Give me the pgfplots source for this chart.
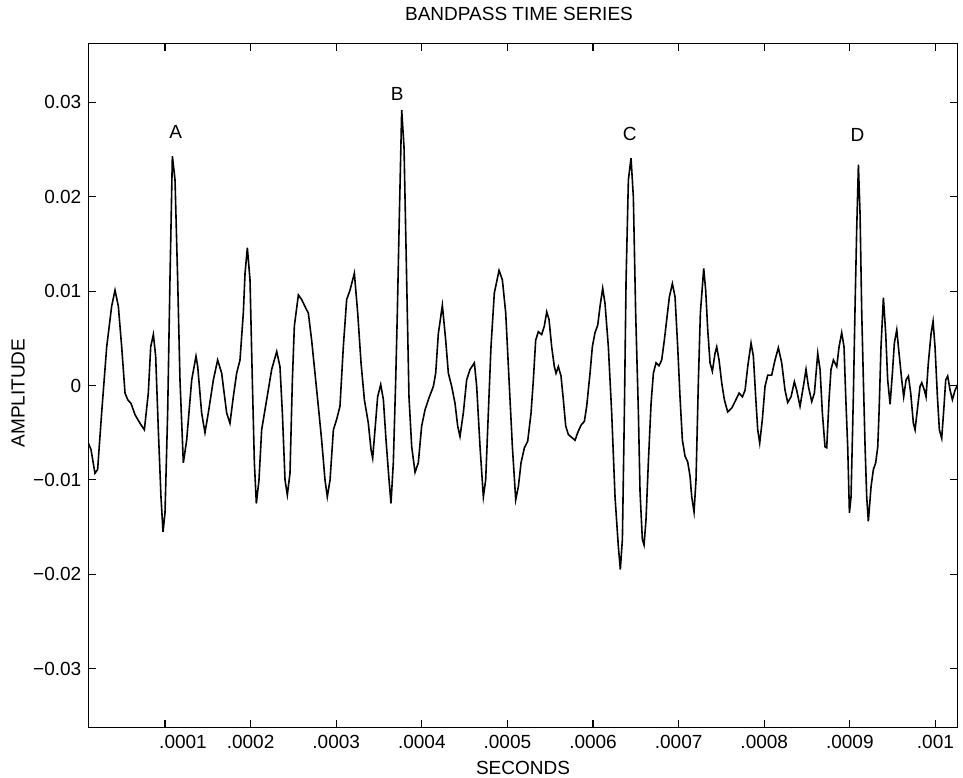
\documentclass[border=0pt]{standalone}
\usepackage{fontspec}
\setmainfont{Liberation Sans}
\usepackage{pgfplots}
\usepackage{pgfplotstable}
\pgfplotsset{compat=1.18}
\pgfplotstableread{
t a
10.4 -0.0061
13.6 -0.0068
18.2 -0.0093
21.3 -0.0089
26.0 -0.0029
31.9 0.0041
37.7 0.0084
41.6 0.0101
45.5 0.0084
49.4 0.0041
53.3 -0.0008
56.4 -0.0015
60.3 -0.0019
65.0 -0.0031
70.8 -0.0040
75.9 -0.0047
80.5 -0.0008
83.3 0.0041
86.4 0.0054
89.1 0.0031
92.2 -0.0047
95.3 -0.0118
97.7 -0.0155
100.0 -0.0135
103.1 -0.0029
105.8 0.0112
108.6 0.0243
111.7 0.0218
114.8 0.0112
117.5 0.0006
121.4 -0.0082
125.3 -0.0058
131.2 0.0006
136.2 0.0031
138.2 0.0020
142.8 -0.0029
146.7 -0.0050
150.6 -0.0029
156.5 0.0006
161.5 0.0027
166.2 0.0013
172.0 -0.0029
175.9 -0.0040
179.8 -0.0012
183.7 0.0013
187.6 0.0027
191.5 0.0077
193.5 0.0119
196.2 0.0146
199.3 0.0112
202.0 0.0006
204.4 -0.0082
206.7 -0.0125
209.8 -0.0100
212.9 -0.0047
218.8 -0.0015
224.6 0.0017
230.5 0.0036
234.3 0.0020
237.1 -0.0029
240.2 -0.0100
242.9 -0.0116
246.0 -0.0093
248.8 0.0006
251.1 0.0063
255.8 0.0096
259.7 0.0091
265.5 0.0080
267.4 0.0077
271.3 0.0048
275.2 0.0013
279.1 -0.0022
283.0 -0.0058
286.9 -0.0100
289.6 -0.0118
292.8 -0.0100
296.7 -0.0047
300.5 -0.0036
304.4 -0.0022
308.3 0.0041
312.2 0.0091
316.1 0.0101
321.2 0.0119
325.1 0.0077
329.0 0.0024
332.9 -0.0015
337.5 -0.0040
340.7 -0.0068
342.6 -0.0077
345.3 -0.0047
348.4 -0.0012
352.0 0.0001
355.1 -0.0015
358.2 -0.0058
361.7 -0.0100
364.0 -0.0125
366.7 -0.0082
369.5 0.0006
371.4 0.0077
373.4 0.0165
376.5 0.0292
379.2 0.0253
382.3 0.0112
385.0 -0.0012
388.2 -0.0065
392.1 -0.0092
395.9 -0.0082
399.8 -0.0043
403.7 -0.0026
408.4 -0.0013
413.5 -0.0001
416.2 0.0013
419.3 0.0055
424.0 0.0085
427.9 0.0048
431.0 0.0013
434.9 -0.0001
438.8 -0.0019
441.9 -0.0043
444.6 -0.0054
448.5 -0.0029
452.4 0.0006
456.3 0.0017
461.4 0.0024
464.1 -0.0001
468.0 -0.0065
471.9 -0.0118
474.6 -0.0100
477.7 -0.0029
480.8 0.0041
484.7 0.0098
490.2 0.0122
494.1 0.0112
498.0 0.0077
501.9 0.0006
505.8 -0.0065
509.7 -0.0121
512.8 -0.0107
515.9 -0.0082
519.8 -0.0066
523.7 -0.0059
527.6 -0.0029
530.3 0.0006
533.0 0.0048
536.1 0.0057
540.0 0.0054
543.1 0.0063
545.9 0.0078
548.6 0.0070
551.7 0.0041
554.8 0.0020
556.8 0.0013
559.5 0.0020
562.6 0.0010
565.3 -0.0015
568.1 -0.0043
571.2 -0.0052
575.1 -0.0055
579.0 -0.0058
582.1 -0.0050
586.0 -0.0042
589.9 -0.0038
592.6 -0.0022
596.5 0.0013
599.2 0.0041
602.3 0.0056
605.5 0.0064
608.2 0.0084
611.3 0.0103
614.0 0.0087
617.9 0.0041
621.8 -0.0029
625.7 -0.0118
629.6 -0.0171
631.9 -0.0195
634.3 -0.0163
636.6 -0.0029
638.6 0.0112
641.3 0.0218
644.4 0.0241
647.1 0.0200
649.8 0.0077
653.0 -0.0029
654.9 -0.0112
657.6 -0.0163
659.6 -0.0169
661.9 -0.0142
664.6 -0.0082
667.8 -0.0019
670.5 0.0013
673.6 0.0024
677.1 0.0021
680.2 0.0027
683.3 0.0048
686.1 0.0070
689.2 0.0094
692.7 0.0108
695.8 0.0094
698.9 0.0041
701.6 -0.0012
704.4 -0.0058
707.5 -0.0075
710.6 -0.0081
713.3 -0.0096
715.3 -0.0118
718.0 -0.0134
720.3 -0.0100
723.1 0.0006
725.4 0.0077
729.3 0.0124
731.6 0.0101
734.0 0.0059
736.7 0.0024
739.4 0.0015
742.5 0.0034
744.5 0.0041
747.2 0.0027
750.3 0.0003
753.4 -0.0015
757.3 -0.0028
762.0 -0.0024
765.9 -0.0017
770.6 -0.0008
774.5 -0.0012
777.6 -0.0005
780.7 0.0020
784.6 0.0045
787.3 0.0031
790.0 -0.0012
792.4 -0.0047
794.7 -0.0061
797.8 -0.0036
800.9 -0.0001
804.1 0.0011
808.7 0.0011
812.6 0.0027
816.5 0.0040
820.4 0.0024
824.3 -0.0005
827.4 -0.0018
831.3 -0.0012
835.2 0.0004
837.9 -0.0005
841.8 -0.0022
845.7 -0.0001
848.8 0.0017
851.6 -0.0001
855.5 -0.0017
858.6 -0.0008
862.5 0.0034
865.2 0.0017
867.9 -0.0029
871.0 -0.0065
873.0 -0.0066
875.7 -0.0015
878.0 0.0017
880.8 0.0027
884.7 0.0020
887.4 0.0041
890.5 0.0056
893.2 0.0041
895.2 -0.0012
897.5 -0.0065
899.5 -0.0135
901.4 -0.0118
904.1 -0.0012
906.1 0.0084
908.0 0.0165
910.0 0.0234
911.9 0.0183
913.9 0.0077
915.8 0.0006
917.8 -0.0065
919.7 -0.0118
921.6 -0.0144
924.8 -0.0107
927.5 -0.0089
930.2 -0.0082
932.6 -0.0065
934.1 -0.0029
936.4 0.0041
939.2 0.0093
941.9 0.0055
944.2 0.0006
947.0 -0.0020
949.7 0.0013
952.0 0.0045
954.8 0.0059
957.5 0.0034
960.6 0.0006
962.9 -0.0012
965.7 0.0006
968.4 0.0010
971.1 -0.0008
974.2 -0.0040
976.2 -0.0047
979.3 -0.0022
982.0 -0.0001
984.0 0.0003
987.1 -0.0005
989.0 -0.0012
991.7 0.0024
994.9 0.0055
997.2 0.0068
999.5 0.0041
1002.3 -0.0012
1004.6 -0.0047
1007.3 -0.0056
1010.0 -0.0022
1012.0 0.0006
1014.3 0.0010
1017.1 -0.0005
1019.8 -0.0015
1022.9 -0.0005
1026.0 0.0001
}\bandpass
\begin{document}
\begin{tikzpicture}[font=\fontsize{9.5}{11}\selectfont]
\begin{axis}[
  name=ax,
  scale only axis,
  width=434.7pt, height=342.2pt,
  xmin=10.4, xmax=1026,
  ymin=-0.03627, ymax=0.03627,
  axis line style={line width=0.7pt},
  tick align=inside, tick pos=both,
  major tick length=4pt,
  tick style={line width=0.6pt, black},
  xtick={100,200,300,400,500,600,700,800,900,1000},
  xticklabels={{\hspace{18pt}.0001},.0002,.0003,.0004,.0005,.0006,.0007,.0008,.0009,.001},
  ytick={-0.03,-0.02,-0.01,0,0.01,0.02,0.03},
  yticklabels={−0.03,−0.02,−0.01,0,0.01,0.02,0.03},
  scaled y ticks=false, scaled x ticks=false,
  /pgf/number format/assume math mode=true,
  tick label style={font=\fontsize{9.5}{11}\selectfont},
  title={BANDPASS TIME SERIES},
  every axis title/.style={at={(axis description cs:0.5,1)}, anchor=center, yshift=14.6pt, xshift=-2pt},
  xlabel={SECONDS},
  every axis x label/.style={at={(axis description cs:0.5,0)}, anchor=center, yshift=-20.2pt},
  ylabel={AMPLITUDE},
  every axis y label/.style={at={(axis description cs:0,0.5)}, xshift=-35pt, yshift=-3.75pt, rotate=90, anchor=center},
]
\addplot[black, line width=0.8pt, no marks, sharp plot] table[x=t, y=a] {\bandpass};
\node at (axis cs:112.5,0.0269) {A};
\node at (axis cs:371.4,0.0309) {B};
\node at (axis cs:642.9,0.0267) {C};
\node at (axis cs:909,0.0266) {D};
\end{axis}
\pgfresetboundingbox
\path ([shift={(-44.15pt,-24.65pt)}]ax.south west) rectangle ([shift={(2.65pt,21.65pt)}]ax.north east);
\end{tikzpicture}
\end{document}
